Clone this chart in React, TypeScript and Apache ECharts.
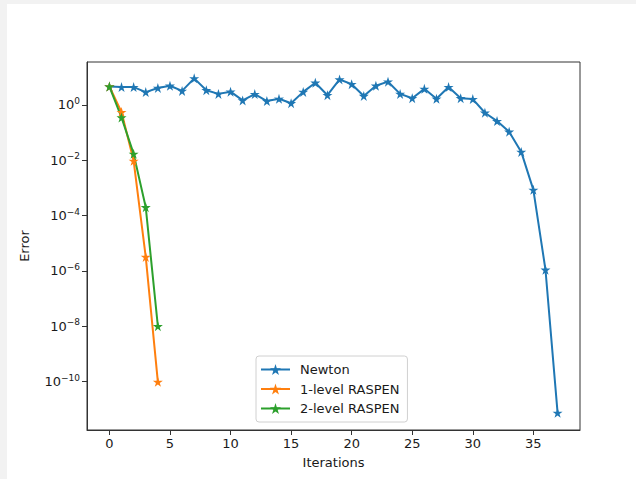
import React, { useEffect, useRef } from "react";
import * as echarts from "echarts";

const iterations = Array.from({ length: 38 }, (_, i) => i);
const newton = [
  4.6, 4.4, 4.4, 2.9, 4.1, 4.9, 3.2, 9.1, 3.4, 2.5, 3.0, 1.45, 2.45, 1.38, 1.66, 1.15,
  2.95, 6.3, 2.24, 8.3, 5.6, 2.1, 4.9, 6.9, 2.5, 1.74, 3.8, 1.66, 4.4, 1.74, 1.62,
  0.52, 0.26, 0.107, 0.02, 8.5e-4, 1.1e-6, 7.4e-12,
];
const raspen1 = [4.6, 0.55, 9.5e-3, 3.2e-6, 9.8e-11];
const raspen2 = [4.6, 0.35, 1.7e-2, 2.0e-4, 1.0e-8];
const xTicks = [0, 5, 10, 15, 20, 25, 30, 35];
const yTickExps = [-10, -8, -6, -4, -2, 0];

const STAR =
  "path://M0,-100L22.35,-30.74L95.1,-30.9L36.14,11.74L58.8,80.9L0,38L-58.8,80.9L-36.14,11.74L-95.1,-30.9L-22.35,-30.74Z";

const FONT = "DejaVu Sans";

function toPoints(vals: number[]) {
  return vals.map((v, i) => [iterations[i], Math.log10(v)]);
}

export default function App() {
  const ref = useRef<HTMLDivElement>(null);
  useEffect(() => {
    if (!ref.current) return;
    const chart = echarts.init(ref.current, undefined, { renderer: "svg" });
    const mk = (name: string, vals: number[], color: string) => ({
      name,
      type: "line",
      data: toPoints(vals),
      symbol: STAR,
      symbolSize: 10,
      showSymbol: true,
      lineStyle: { color, width: 2 },
      itemStyle: { color },
      emphasis: { disabled: true },
    });
    chart.setOption({
      animation: false,
      backgroundColor: "#ffffff",
      grid: {
        left: 80,
        top: 58,
        right: 56,
        bottom: 49,
        show: true,
        borderColor: "#333",
        borderWidth: 1,
        containLabel: false,
      },
      legend: {
        orient: "vertical",
        left: 249,
        top: 352,
        padding: [7, 8, 7, 4],
        itemWidth: 29,
        itemHeight: 14,
        itemGap: 6.5,
        borderColor: "#d0d0d0",
        borderWidth: 1,
        borderRadius: 3,
        backgroundColor: "rgba(255,255,255,0.8)",
        textStyle: { fontFamily: FONT, fontSize: 13, color: "#1a1a1a", padding: [0, 0, 0, 5] },
        data: ["Newton", "1-level RASPEN", "2-level RASPEN"],
      },
      xAxis: {
        type: "value",
        min: -1.85,
        max: 38.85,
        name: "Iterations",
        nameLocation: "middle",
        nameGap: 26,
        nameTextStyle: { fontFamily: FONT, fontSize: 13, color: "#1a1a1a" },
        axisLine: { show: true, onZero: false, lineStyle: { color: "#333", width: 1 } },
        axisTick: { show: true, length: 5, lineStyle: { color: "#333" }, customValues: xTicks },
        axisLabel: {
          fontFamily: FONT,
          fontSize: 13,
          color: "#1a1a1a",
          margin: 7,
          customValues: xTicks,
        },
        splitLine: { show: false },
      },
      yAxis: {
        type: "value",
        min: -11.75,
        max: 1.55,
        name: "Error",
        nameLocation: "middle",
        nameGap: 56,
        nameTextStyle: { fontFamily: FONT, fontSize: 13, color: "#1a1a1a" },
        axisLine: { show: true, onZero: false, lineStyle: { color: "#333", width: 1 } },
        axisTick: { show: true, length: 5, lineStyle: { color: "#333" }, customValues: yTickExps },
        axisLabel: {
          margin: 7,
          customValues: yTickExps,
          formatter: (v: number) => {
            const e = Math.round(v);
            const s = e < 0 ? "\u2212" + Math.abs(e) : String(e);
            return "{b|10}{s|" + s + "}";
          },
          rich: {
            b: { fontFamily: FONT, fontSize: 13, color: "#1a1a1a", lineHeight: 16 },
            s: { fontFamily: FONT, fontSize: 9, color: "#1a1a1a", lineHeight: 10, padding: [0, 0, 8, 0] },
          },
        },
        splitLine: { show: false },
      },
      series: [
        mk("Newton", newton, "#1f77b4"),
        mk("1-level RASPEN", raspen1, "#ff7f0e"),
        mk("2-level RASPEN", raspen2, "#2ca02c"),
      ],
    });
    return () => chart.dispose();
  }, []);
  return (
    <div style={{ position: "fixed", left: 0, top: 0, width: 636, height: 479, background: "#f2f2f2" }}>
      <div
        ref={ref}
        style={{ position: "absolute", left: 7, top: 4, width: 629, height: 475, background: "#fff" }}
      />
    </div>
  );
}
